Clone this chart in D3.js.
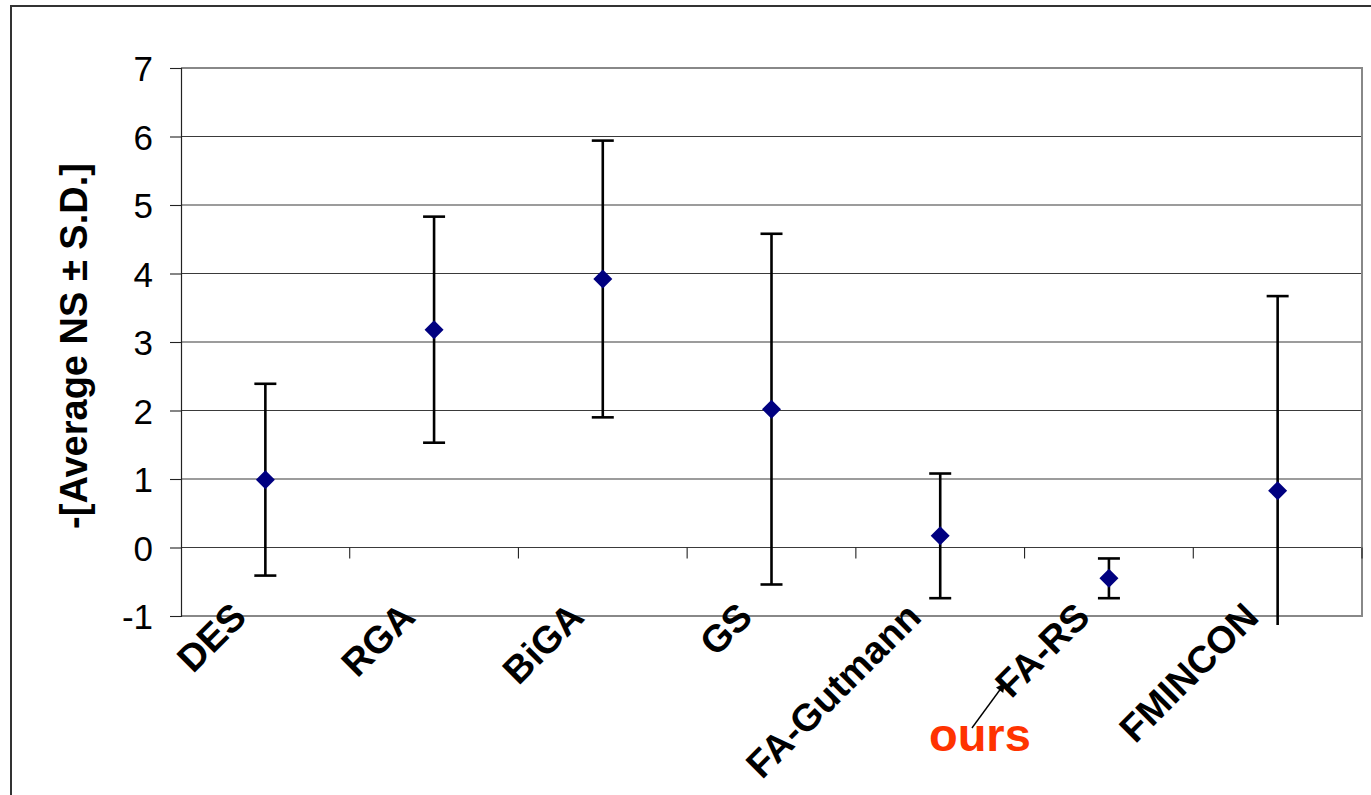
<!DOCTYPE html>
<html>
<head>
<meta charset="utf-8">
<script src="https://cdn.jsdelivr.net/npm/d3@7/dist/d3.min.js"></script>
<style>
  html, body { margin: 0; padding: 0; background: #fff; }
  svg { display: block; }
</style>
</head>
<body>
<script>
const categories = ["DES", "RGA", "BiGA", "GS", "FA-Gutmann", "FA-RS", "FMINCON"];
const means = [0.99, 3.18, 3.92, 2.02, 0.17, -0.45, 0.83];
const sds = [1.40, 1.65, 2.02, 2.56, 0.91, 0.29, 2.84];
const yTicks = [-1, 0, 1, 2, 3, 4, 5, 6, 7];
const yLabel = "-[Average NS \u00B1 S.D.]";
const annotation = "ours";

(function () {
const W = 1371, H = 795;
const pL = 181, pR = 1362, pT = 68, pB = 616;

const svg = d3.select("body").append("svg").attr("width", W).attr("height", H);

// outer frame
svg.append("path").attr("d", `M11,${H + 5} L11,6 L${W + 5},6`)
  .attr("fill", "none").attr("stroke", "#333").attr("stroke-width", 2);

const x = d3.scaleBand().domain(categories).range([pL, pR]).paddingInner(0).paddingOuter(0);
const y = d3.scaleLinear().domain([-1, 7]).range([pB, pT]);

// gridlines
svg.append("g").selectAll("line").data(yTicks.filter(t => t > -1 && t < 7)).join("line")
  .attr("x1", pL).attr("x2", pR)
  .attr("y1", d => y(d)).attr("y2", d => y(d))
  .attr("stroke", "#3a3a3a").attr("stroke-width", 1.1);

// plot border (top, right, bottom)
svg.append("path")
  .attr("d", `M${pL},${y(7)} L${pR},${y(7)} L${pR},${y(-1)} L${pL},${y(-1)}`)
  .attr("fill", "none").attr("stroke", "#888").attr("stroke-width", 2);

// y axis
const yAxis = d3.axisLeft(y).tickValues(yTicks).tickSize(11).tickPadding(17).tickFormat(d => String(d));
const gy = svg.append("g").attr("transform", `translate(${pL},0)`).call(yAxis);
gy.select(".domain").attr("stroke", "#222").attr("stroke-width", 1.2);
gy.selectAll(".tick line").attr("stroke", "#222").attr("stroke-width", 1.1);
gy.selectAll(".tick text")
  .attr("font-family", "Liberation Sans, Arial, sans-serif")
  .attr("font-size", 35).attr("fill", "#000").attr("dy", "0.36em");

// x axis on zero line: ticks at category boundaries
const boundaries = categories.map(c => x(c)).slice(1).concat([pR]);
svg.append("g").selectAll("line").data(boundaries).join("line")
  .attr("x1", d => d).attr("x2", d => d)
  .attr("y1", y(0)).attr("y2", y(0) + 11)
  .attr("stroke", "#222").attr("stroke-width", 1.1);

// category labels
svg.append("g").selectAll("text").data(categories).join("text")
  .attr("transform", d => `translate(${x(d) + x.bandwidth() / 2 - 17},${pB + 3}) rotate(-45)`)
  .attr("text-anchor", "end")
  .attr("font-family", "Liberation Sans, Arial, sans-serif")
  .attr("font-weight", "bold").attr("font-size", 38).attr("fill", "#000")
  .text(d => d);

// y label
svg.append("text")
  .attr("transform", `translate(87,${(pT + pB) / 2 + 4}) rotate(-90)`)
  .attr("text-anchor", "middle")
  .attr("font-family", "Liberation Sans, Arial, sans-serif")
  .attr("font-weight", "bold").attr("font-size", 38).attr("fill", "#000")
  .text(yLabel);

// error bars (clipped slightly below plot)
const defs = svg.append("defs");
defs.append("clipPath").attr("id", "eclip")
  .append("rect").attr("x", pL).attr("y", 0).attr("width", pR - pL).attr("height", pB + 9);

const data = categories.map((c, i) => ({ c, m: means[i], s: sds[i] }));
const eb = svg.append("g").attr("clip-path", "url(#eclip)");
const capW = 11;
data.forEach(d => {
  const cx = x(d.c) + x.bandwidth() / 2;
  const g = eb.append("g").attr("stroke", "#000").attr("stroke-width", 2.6);
  g.append("line").attr("x1", cx).attr("x2", cx).attr("y1", y(d.m + d.s)).attr("y2", y(d.m - d.s));
  g.append("line").attr("x1", cx - capW).attr("x2", cx + capW).attr("y1", y(d.m + d.s)).attr("y2", y(d.m + d.s));
  g.append("line").attr("x1", cx - capW).attr("x2", cx + capW).attr("y1", y(d.m - d.s)).attr("y2", y(d.m - d.s));
});

// diamonds
const r = 9.5;
svg.append("g").selectAll("path").data(data).join("path")
  .attr("d", d => {
    const cx = x(d.c) + x.bandwidth() / 2, cy = y(d.m);
    return `M${cx},${cy - r} L${cx + r},${cy} L${cx},${cy + r} L${cx - r},${cy} Z`;
  })
  .attr("fill", "#000080");

// annotation
defs.append("marker").attr("id", "arr")
  .attr("viewBox", "0 0 10 10").attr("refX", 10).attr("refY", 5)
  .attr("markerWidth", 14).attr("markerHeight", 9).attr("orient", "auto")
  .attr("markerUnits", "userSpaceOnUse")
  .append("path").attr("d", "M0,0 L10,5 L0,10 Z").attr("fill", "#000");

const frsX = x("FA-RS") + x.bandwidth() / 2;
svg.append("line")
  .attr("x1", frsX - 137).attr("y1", 728)
  .attr("x2", frsX - 104).attr("y2", 683)
  .attr("stroke", "#000").attr("stroke-width", 1.4)
  .attr("marker-end", "url(#arr)");

svg.append("text")
  .attr("x", frsX - 180).attr("y", 751)
  .attr("font-family", "Liberation Sans, Arial, sans-serif")
  .attr("font-weight", "bold").attr("font-size", 47).attr("fill", "#FF3300")
  .text(annotation);
})();
</script>
</body>
</html>
